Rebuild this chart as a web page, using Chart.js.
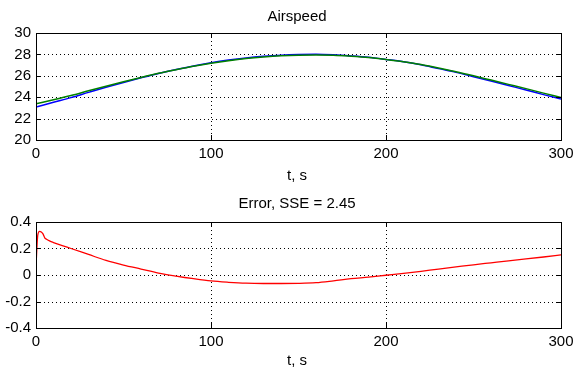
<!DOCTYPE html>
<html>
<head>
<meta charset="utf-8">
<script src="https://cdn.jsdelivr.net/npm/chart.js@4.4.0/dist/chart.umd.min.js"></script>
<style>
html,body{margin:0;padding:0;background:#fff;}
#wrap{position:relative;width:573px;height:374px;background:#fff;}
canvas{position:absolute;left:0;}
</style>
</head>
<body>
<div id="wrap">
<canvas id="c1" width="573" height="187" style="top:0;width:573px;height:187px"></canvas>
<canvas id="c2" width="573" height="186" style="top:188px;width:573px;height:186px"></canvas>
</div>
<script>
// ---- data ----
const timeAirspeed = [0,10,20,30,40,50,60,70,80,90,100,110,120,130,140,150,160,170,180,190,200,210,220,230,240,250,260,270,280,290,300];
const airspeedMeasured = [23.07,23.52,23.96,24.45,24.93,25.38,25.81,26.22,26.58,26.92,27.22,27.47,27.67,27.82,27.93,27.99,28.01,27.96,27.86,27.73,27.53,27.31,27.03,26.67,26.32,25.92,25.51,25.09,24.68,24.24,23.83];
const airspeedModel = [23.38,23.76,24.16,24.60,25.03,25.45,25.85,26.23,26.57,26.89,27.17,27.41,27.61,27.76,27.87,27.93,27.95,27.92,27.83,27.71,27.53,27.32,27.06,26.72,26.38,26.00,25.60,25.20,24.80,24.38,23.98];
const timeError = [0,1,2,3,4,5,6,8,10,15,20,30,40,50,60,70,80,90,100,110,120,130,140,150,160,170,180,190,200,210,220,230,240,250,260,270,280,290,300];
const errorValues = [0.07,0.30,0.33,0.325,0.31,0.28,0.27,0.255,0.245,0.222,0.20,0.155,0.11,0.075,0.045,0.015,-0.008,-0.028,-0.045,-0.055,-0.062,-0.064,-0.064,-0.063,-0.058,-0.044,-0.028,-0.016,-0.002,0.012,0.028,0.045,0.061,0.077,0.092,0.107,0.121,0.136,0.152];
const timeTicks = [0,100,200,300];
const airspeedTicks = [20,22,24,26,28,30];
const errorTicks = [-0.4,-0.2,0,0.2,0.4];
const airspeedTitle = 'Airspeed';
const errorTitle = 'Error, SSE = 2.45';
const timeLabel = 't, s';

const FONT = '"Liberation Sans", Arial, Helvetica, sans-serif';

const matlabAxes = {
  id: 'matlabAxes',
  beforeDatasetsDraw(chart, args, opts) {
    const {ctx, chartArea: a, scales: {x, y}} = chart;
    ctx.save();
    ctx.strokeStyle = '#000';
    ctx.lineWidth = 1;
    ctx.setLineDash([1, 3]);
    x.ticks.forEach(t => {
      if (t.value <= x.min || t.value >= x.max) return;
      const px = Math.round(x.getPixelForValue(t.value)) + 0.5;
      ctx.beginPath(); ctx.moveTo(px, a.top); ctx.lineTo(px, a.bottom); ctx.stroke();
    });
    y.ticks.forEach(t => {
      if (t.value <= y.min || t.value >= y.max) return;
      const py = Math.round(y.getPixelForValue(t.value)) + 0.5;
      ctx.beginPath(); ctx.moveTo(a.left, py); ctx.lineTo(a.right, py); ctx.stroke();
    });
    ctx.restore();
  },
  afterDatasetsDraw(chart, args, opts) {
    const {ctx, chartArea: a, scales: {x, y}} = chart;
    ctx.save();
    ctx.setLineDash([]);
    ctx.strokeStyle = '#000';
    ctx.lineWidth = 1;
    ctx.strokeRect(a.left + 0.5, a.top + 0.5, a.right - a.left, a.bottom - a.top);
    const L = 5;
    ctx.beginPath();
    x.ticks.forEach(t => {
      const px = Math.round(x.getPixelForValue(t.value)) + 0.5;
      ctx.moveTo(px, a.bottom); ctx.lineTo(px, a.bottom - L);
      ctx.moveTo(px, a.top); ctx.lineTo(px, a.top + L);
    });
    y.ticks.forEach(t => {
      const py = Math.round(y.getPixelForValue(t.value)) + 0.5;
      ctx.moveTo(a.left, py); ctx.lineTo(a.left + L, py);
      ctx.moveTo(a.right, py); ctx.lineTo(a.right - L, py);
    });
    ctx.stroke();
    ctx.fillStyle = '#000';
    ctx.font = '15px ' + FONT;
    ctx.textAlign = 'center';
    ctx.textBaseline = 'alphabetic';
    const cx = (a.left + a.right) / 2 - 1.5;
    ctx.fillText(opts.title, cx, opts.titleY);
    ctx.fillText(opts.xLabel, cx, opts.xLabelY);
    ctx.restore();
  }
};

function makeChart(id, cfg) {
  return new Chart(document.getElementById(id), {
    type: 'line',
    data: { datasets: cfg.datasets },
    options: {
      responsive: false,
      animation: false,
      devicePixelRatio: 1,
      layout: { padding: { left: 0, right: 12, top: cfg.top, bottom: 0 } },
      plugins: {
        legend: { display: false },
        tooltip: { enabled: false },
        title: { display: false },
        matlabAxes: { title: cfg.title, titleY: cfg.titleY, xLabel: timeLabel, xLabelY: cfg.xLabelY }
      },
      elements: { point: { radius: 0 }, line: { tension: 0.4, cubicInterpolationMode: 'monotone' } },
      scales: {
        x: {
          type: 'linear', min: 0, max: 300,
          afterBuildTicks: s => { s.ticks = timeTicks.map(v => ({ value: v })); },
          afterFit: s => { s.height = cfg.xHeight; s.paddingLeft = 0; s.paddingRight = 0; },
          grid: { display: false, drawTicks: false },
          border: { display: false },
          ticks: { color: '#000', font: { family: FONT, size: 15 }, padding: 5, maxRotation: 0, autoSkip: false,
                   callback: v => String(v) }
        },
        y: {
          type: 'linear', min: cfg.ymin, max: cfg.ymax,
          afterBuildTicks: s => { s.ticks = cfg.yTicks.map(v => ({ value: v })); },
          afterFit: s => { s.width = 36; s.paddingTop = 0; s.paddingBottom = 0; },
          grid: { display: false, drawTicks: false },
          border: { display: false },
          ticks: { color: '#000', font: { family: FONT, size: 15 }, padding: 5, autoSkip: false,
                   callback: v => String(Math.round(v * 10) / 10) }
        }
      }
    },
    plugins: [matlabAxes]
  });
}

makeChart('c1', {
  top: 33, xHeight: 47, title: airspeedTitle, titleY: 21, xLabelY: 180,
  ymin: 20, ymax: 30, yTicks: airspeedTicks,
  datasets: [
    { label: 'Measured', data: timeAirspeed.map((t, i) => ({ x: t, y: airspeedMeasured[i] })),
      borderColor: '#0000ff', borderWidth: 1.5, order: 2 },
    { label: 'Model', data: timeAirspeed.map((t, i) => ({ x: t, y: airspeedModel[i] })),
      borderColor: '#008000', borderWidth: 1.5, order: 1 }
  ]
});

makeChart('c2', {
  top: 34, xHeight: 46, title: errorTitle, titleY: 20, xLabelY: 177,
  ymin: -0.4, ymax: 0.4, yTicks: errorTicks,
  datasets: [
    { label: 'Error', data: timeError.map((t, i) => ({ x: t, y: errorValues[i] })),
      borderColor: '#ff0000', borderWidth: 1.3 }
  ]
});
</script>
</body>
</html>
